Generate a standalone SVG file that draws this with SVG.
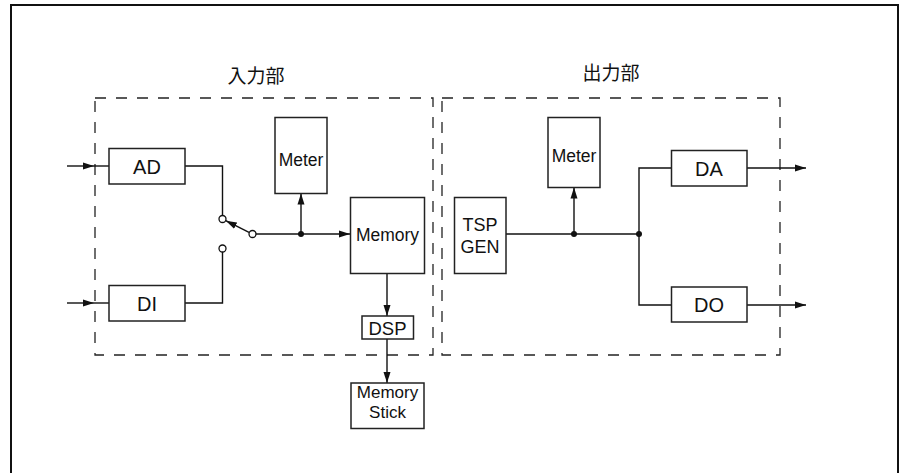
<svg xmlns="http://www.w3.org/2000/svg" width="904" height="473" viewBox="0 0 904 473">
<defs>
<style>
.box{fill:#fff;stroke:#222;stroke-width:1.5}
.dash{fill:none;stroke:#222;stroke-width:1.3;stroke-dasharray:11 10}
.w{fill:none;stroke:#111;stroke-width:1.4}
.t{font-family:"Liberation Sans",Arial,sans-serif;fill:#111;text-anchor:middle;dominant-baseline:central}
.jp{font-family:"Noto Sans CJK JP","Noto Sans CJK SC",sans-serif;fill:#111;text-anchor:middle;font-size:19px}
.c{fill:#fff;stroke:#111;stroke-width:1.3}
.dot{fill:#111}
</style>
<marker id="ar" markerUnits="userSpaceOnUse" markerWidth="11" markerHeight="8" refX="11" refY="4" orient="auto">
<path d="M0,0.5 L11,4 L0,7.5 z" fill="#111"/>
</marker>
</defs>
<rect width="904" height="473" fill="#fff"/>
<path d="M11,480 V5 H898 V480" fill="none" stroke="#111" stroke-width="2"/>
<g id="frames">
<rect class="dash" x="95" y="98" width="338" height="257"/>
<rect class="dash" x="442" y="98" width="338" height="257"/>
<text class="jp" x="256" y="83">入力部</text>
<text class="jp" x="611" y="80">出力部</text>
</g>
<g id="connectors">
<path class="w" d="M67,166 H94" marker-end="url(#ar)"/>
<path class="w" d="M94,166 H109"/>
<path class="w" d="M67,303 H94" marker-end="url(#ar)"/>
<path class="w" d="M94,303 H109"/>
<path class="w" d="M185,166 H222.5 V215.5"/>
<path class="w" d="M185,303 H222.5 V252"/>
<path class="w" d="M249,232.3 L225.8,220.7" marker-end="url(#ar)"/>
<path class="w" d="M256,234 H350" marker-end="url(#ar)"/>
<path class="w" d="M301,234 V193.5" marker-end="url(#ar)"/>
<path class="w" d="M387,273 V316" marker-end="url(#ar)"/>
<path class="w" d="M387,339 V383" marker-end="url(#ar)"/>
<path class="w" d="M506,234 H639"/>
<path class="w" d="M574,234 V187.5" marker-end="url(#ar)"/>
<path class="w" d="M671,168 H639 V305 H671"/>
<path class="w" d="M747,168 H806" marker-end="url(#ar)"/>
<path class="w" d="M747,305 H806" marker-end="url(#ar)"/>
<circle class="c" cx="222.5" cy="219" r="3.5"/>
<circle class="c" cx="222.5" cy="248.5" r="3.5"/>
<circle class="c" cx="252.5" cy="234" r="3.5"/>
<circle class="dot" cx="301" cy="234" r="3"/>
<circle class="dot" cx="574" cy="234" r="3"/>
<circle class="dot" cx="639" cy="234" r="3"/>
</g>
<g id="AD"><rect class="box" x="109" y="148.5" width="76" height="35.5"/><text class="t" x="147" y="166.5" font-size="20">AD</text></g>
<g id="DI"><rect class="box" x="109" y="285.5" width="76" height="35.5"/><text class="t" x="147" y="303.5" font-size="20">DI</text></g>
<g id="Meter1"><rect class="box" x="275" y="117.5" width="52" height="76"/><text class="t" x="301" y="160" font-size="17.5">Meter</text></g>
<g id="Memory"><rect class="box" x="350.5" y="197.5" width="74" height="76"/><text class="t" x="387.5" y="235" font-size="17.5">Memory</text></g>
<g id="DSP"><rect class="box" x="362" y="316" width="51.5" height="23"/><text class="t" x="387.5" y="328" font-size="18.5">DSP</text></g>
<g id="MemoryStick"><rect class="box" x="351" y="383" width="73" height="45.5"/><text class="t" x="387.5" y="392.5" font-size="17">Memory</text><text class="t" x="387.5" y="412.5" font-size="17">Stick</text></g>
<g id="TSPGEN"><rect class="box" x="454.5" y="197.5" width="51.5" height="76"/><text class="t" x="480" y="225" font-size="18">TSP</text><text class="t" x="480" y="247" font-size="18">GEN</text></g>
<g id="Meter2"><rect class="box" x="548" y="117.5" width="52" height="70"/><text class="t" x="574" y="156" font-size="17.5">Meter</text></g>
<g id="DA"><rect class="box" x="671.5" y="150.5" width="75.5" height="35.5"/><text class="t" x="709" y="168.5" font-size="20">DA</text></g>
<g id="DO"><rect class="box" x="671.5" y="287" width="75.5" height="35"/><text class="t" x="709" y="305" font-size="20">DO</text></g>
</svg>
